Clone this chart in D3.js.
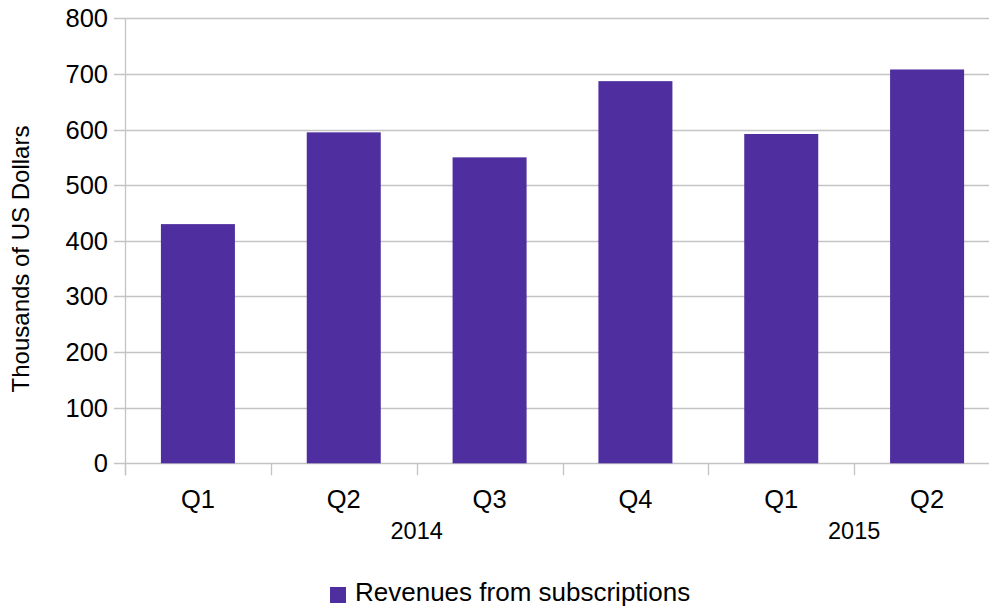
<!DOCTYPE html>
<html>
<head>
<meta charset="utf-8">
<script src="https://cdn.jsdelivr.net/npm/d3@7"></script>
<style>
  body { margin: 0; background: #ffffff; }
  svg { display: block; font-family: "Liberation Sans", Arial, sans-serif; }
</style>
</head>
<body>
<div class="chart"></div>
<script>
var quarters = ["Q1", "Q2", "Q3", "Q4", "Q1", "Q2"];
var years = ["2014", "2014", "2014", "2014", "2015", "2015"];
var revenues = [430, 595, 550, 687, 592, 708];
var yTicks = [0, 100, 200, 300, 400, 500, 600, 700, 800];
var seriesName = "Revenues from subscriptions";

var width = 989;
var height = 610;
var plotLeft = 125, plotRight = 1000, plotTop = 18.3, plotBottom = 463.3;
var barColor = "#4f2ea0";
var gridColor = "#c4c4c4";

var svg = d3.select(".chart").append("svg")
	.attr("width", width)
	.attr("height", height);

var keys = d3.range(revenues.length);

var x = d3.scaleBand()
	.domain(keys)
	.range([plotLeft, plotRight])
	.paddingInner(0.4925)
	.paddingOuter(0.24625);

var xOuter = d3.scaleBand().domain(keys).range([plotLeft, plotRight]);

var y = d3.scaleLinear()
	.domain([0, 800])
	.range([plotBottom, plotTop]);

// horizontal gridlines + y tick marks
svg.append("g")
	.selectAll("line")
	.data(yTicks)
	.enter().append("line")
	.attr("x1", plotLeft - 11)
	.attr("x2", plotRight)
	.attr("y1", function(d) { return Math.round(y(d)) + 0.5; })
	.attr("y2", function(d) { return Math.round(y(d)) + 0.5; })
	.attr("stroke", gridColor)
	.attr("stroke-width", 1.3);

// y tick labels
svg.append("g")
	.selectAll("text")
	.data(yTicks)
	.enter().append("text")
	.attr("x", 108)
	.attr("y", function(d) { return y(d) + 9; })
	.attr("text-anchor", "end")
	.attr("font-size", 25.5)
	.attr("fill", "#000")
	.text(function(d) { return d; });

// bars
svg.append("g")
	.selectAll("rect")
	.data(keys)
	.enter().append("rect")
	.attr("x", function(d) { return x(d); })
	.attr("y", function(d) { return y(revenues[d]); })
	.attr("width", x.bandwidth())
	.attr("height", function(d) { return y(0) - y(revenues[d]); })
	.attr("fill", barColor);

// y axis line
svg.append("line")
	.attr("x1", plotLeft + 0.5).attr("x2", plotLeft + 0.5)
	.attr("y1", plotTop).attr("y2", plotBottom + 12)
	.attr("stroke", gridColor)
	.attr("stroke-width", 1.3);

// x tick marks at category boundaries
svg.append("g")
	.selectAll("line")
	.data(d3.range(revenues.length + 1))
	.enter().append("line")
	.attr("x1", function(i) { return Math.round(plotLeft + i * xOuter.step()) + 0.5; })
	.attr("x2", function(i) { return Math.round(plotLeft + i * xOuter.step()) + 0.5; })
	.attr("y1", plotBottom)
	.attr("y2", plotBottom + 12)
	.attr("stroke", gridColor)
	.attr("stroke-width", 1.3);

// quarter labels
svg.append("g")
	.selectAll("text")
	.data(keys)
	.enter().append("text")
	.attr("x", function(d) { return xOuter(d) + xOuter.bandwidth() / 2; })
	.attr("y", 508)
	.attr("text-anchor", "middle")
	.attr("font-size", 25.5)
	.text(function(d) { return quarters[d]; });

// year labels, centred over their quarters
var yearNames = Array.from(new Set(years));
svg.append("g")
	.selectAll("text")
	.data(yearNames)
	.enter().append("text")
	.attr("x", function(yr) {
		var idx = keys.filter(function(k) { return years[k] === yr; });
		var x0 = xOuter(idx[0]);
		var x1 = xOuter(idx[idx.length - 1]) + xOuter.bandwidth();
		return (x0 + x1) / 2;
	})
	.attr("y", 539)
	.attr("text-anchor", "middle")
	.attr("font-size", 23.5)
	.text(function(d) { return d; });

// y axis title
svg.append("text")
	.attr("transform", "translate(29," + 259 + ") rotate(-90)")
	.attr("text-anchor", "middle")
	.attr("font-size", 24)
	.text("Thousands of US Dollars");

// legend
svg.append("rect")
	.attr("x", 330).attr("y", 587)
	.attr("width", 16).attr("height", 16)
	.attr("fill", barColor);

svg.append("text")
	.attr("x", 355).attr("y", 601)
	.attr("font-size", 26)
	.text(seriesName);
</script>
</body>
</html>
